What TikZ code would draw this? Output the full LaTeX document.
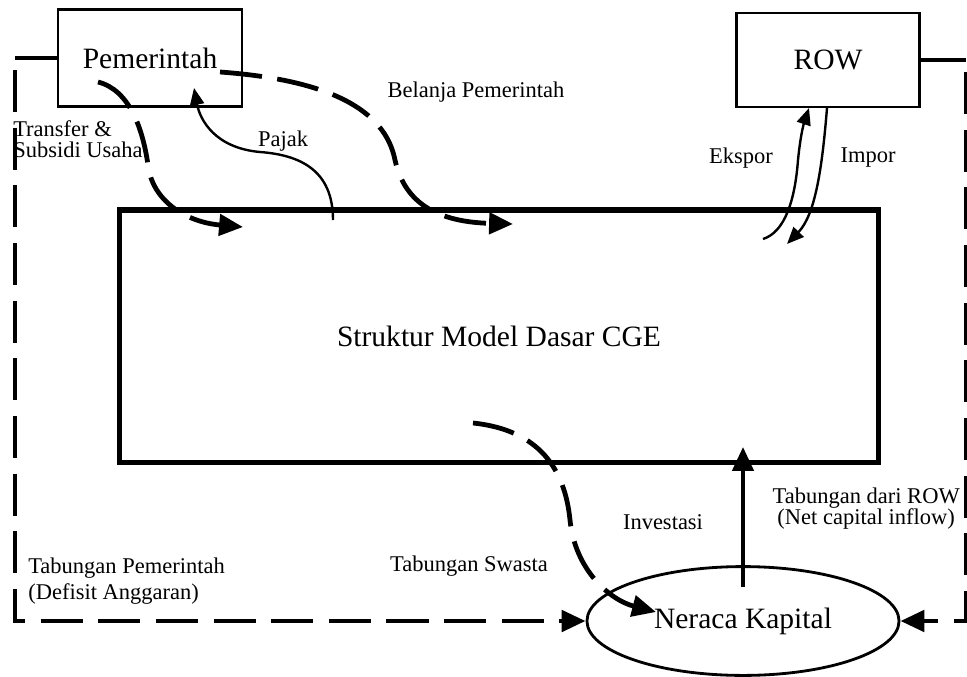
\documentclass[tikz,border=0pt]{standalone}
\usepackage{fontspec}
\setmainfont{Liberation Serif}
\usetikzlibrary{arrows.meta, positioning, shapes.geometric}

\begin{document}
\begin{tikzpicture}[x=0.025cm, y=-0.025cm,
        box/.style={draw, line width=2pt, inner sep=0pt, font=\fontsize{21}{25}\selectfont},
        lbl/.style={inner sep=0pt, font=\fontsize{16}{15}\selectfont},
        flow/.style={line width=3.4pt, dash pattern=on 30pt off 11pt},
        bigtip/.style={-{Triangle[length=17pt, width=15pt]}},
        pipe/.style={line width=1.7pt, -{Triangle[length=12pt, width=10pt]}}]
    \useasboundingbox (0, 0) rectangle (967, 677);
    \clip (0, 0) rectangle (967, 677);

    % blocks
    \node[box, minimum width=4.6cm, minimum height=2.425cm] (pem) at (150, 58) {Pemerintah};
    \node[box, minimum width=4.575cm, minimum height=2.35cm] (row) at (828, 60) {ROW};
    \node[box, line width=3.6pt, minimum width=18.95cm, minimum height=6.3cm] (cge) at (499, 336) {Struktur Model Dasar CGE};
    \node[box, ellipse, minimum width=7.8cm, minimum height=2.72cm] (nk) at (743, 621) {Neraca Kapital};

    % labels
    \node[lbl, align=left, anchor=west] (transfer) at (13, 139) {Transfer \&\\Subsidi Usaha};
    \node[lbl] (pajak) at (283, 141) {Pajak};
    \node[lbl] (belanja) at (476, 92) {Belanja Pemerintah};
    \node[lbl] (ekspor) at (741, 158) {Ekspor};
    \node[lbl] (impor) at (868, 158) {Impor};
    \node[lbl, align=center, anchor=east] (tabrow) at (960, 509) {Tabungan dari ROW\\(Net capital inflow)};
    \node[lbl] (invest) at (663, 522) {Investasi};
    \node[lbl] (tabswasta) at (469, 566) {Tabungan Swasta};
    \node[lbl, align=left, anchor=west, font=\fontsize{16}{18.5}\selectfont] (tabpem) at (28, 581) {Tabungan Pemerintah\\(Defisit Anggaran)};

    % corners of the savings loop
    \coordinate (tl) at (15, 58);
    \coordinate (bl) at (15, 621);
    \coordinate (tr) at (966, 60);
    \coordinate (br) at (966, 621);

    \draw [line width=3pt] (pem.west) -- (tl);
    \draw [line width=3pt] (row.east) -- (tr);
    \draw [flow, bigtip] (tl) ++(0, 12) -- (bl) -- (nk.west);
    \draw [flow, bigtip] (tr) ++(0, 12) -- (br) -- (nk.east);

    % government flows
    \coordinate (ts) at (98, 82);
    \coordinate (te) at (243, 227);
    \draw [flow, bigtip] (ts)
        .. controls (130, 90) and (143, 130) .. (148, 165)
        .. controls (152, 200) and (185, 222) .. (te);

    \coordinate (ps) at (333, 220);
    \coordinate (pe) at (194, 88);
    \draw [pipe] (ps)
        .. controls (333, 170) and (300, 155) .. (260, 152)
        .. controls (215, 148) and (200, 120) .. (pe);

    \coordinate (bs) at (220, 72);
    \coordinate (be) at (513, 224);
    \draw [flow, bigtip] (bs)
        .. controls (330, 80) and (385, 110) .. (395, 160)
        .. controls (405, 205) and (440, 222) .. (be);

    % trade with the rest of the world
    \coordinate (es) at (763, 239);
    \coordinate (ee) at (809, 108);
    \draw [pipe] (es)
        .. controls (785, 232) and (795, 200) .. (798, 160)
        .. controls (801, 130) and (805, 120) .. (ee);

    \coordinate (is) at (827, 108);
    \coordinate (ie) at (787, 244);
    \draw [pipe] (is) .. controls (822, 170) and (815, 215) .. (ie);

    % capital account
    \coordinate (vs) at (743, 587);
    \coordinate (ve) at (743, 447);
    \draw [line width=3pt, bigtip] (vs) -- (ve);

    \coordinate (ss) at (473, 423);
    \coordinate (se) at (656, 612);
    \draw [flow, bigtip] (ss)
        .. controls (540, 430) and (565, 470) .. (570, 520)
        .. controls (575, 570) and (610, 600) .. (se);
\end{tikzpicture}
\end{document}
